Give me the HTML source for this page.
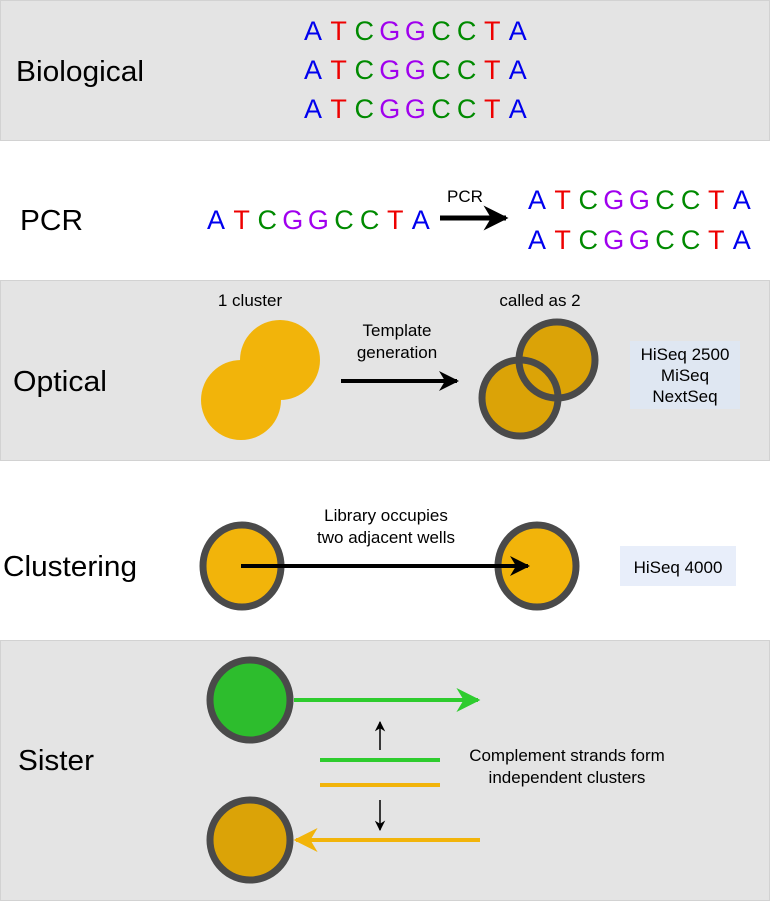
<!DOCTYPE html>
<html><head><meta charset="utf-8"><style>
html,body{margin:0;padding:0;background:#fff;}
svg{display:block;font-family:"Liberation Sans",Arial,sans-serif;}
</style></head><body>
<svg width="771" height="901" viewBox="0 0 771 901">
<defs>
<marker id="hb" viewBox="0 0 10 10" refX="9" refY="5" markerWidth="5" markerHeight="5" orient="auto" markerUnits="strokeWidth"><path d="M0,0 L10,5 L0,10 L3,5 z" fill="#000"/></marker>
<marker id="hg" viewBox="0 0 10 10" refX="9" refY="5" markerWidth="6" markerHeight="6" orient="auto" markerUnits="strokeWidth"><path d="M0,0 L10,5 L0,10 L3,5 z" fill="#2ecc2e"/></marker>
<marker id="hy" viewBox="0 0 10 10" refX="9" refY="5" markerWidth="6" markerHeight="6" orient="auto" markerUnits="strokeWidth"><path d="M0,0 L10,5 L0,10 L3,5 z" fill="#f2b40a"/></marker>
<marker id="hs" viewBox="0 0 10 10" refX="9" refY="5" markerWidth="7" markerHeight="7" orient="auto" markerUnits="strokeWidth"><path d="M0,0 L10,5 L0,10 L3,5 z" fill="#000"/></marker>
</defs>
<rect x="0.5" y="0.5" width="769" height="140" fill="#e4e4e4" stroke="#d2d2d2"/>
<rect x="0.5" y="280.5" width="769" height="180" fill="#e4e4e4" stroke="#d2d2d2"/>
<rect x="0.5" y="640.5" width="769" height="260" fill="#e4e4e4" stroke="#d2d2d2"/>

<g font-size="29" fill="#000">
<text x="16" y="81" textLength="128" lengthAdjust="spacingAndGlyphs">Biological</text>
<text x="20" y="230" textLength="63" lengthAdjust="spacingAndGlyphs">PCR</text>
<text x="13" y="391" textLength="94" lengthAdjust="spacingAndGlyphs">Optical</text>
<text x="3" y="576" textLength="134" lengthAdjust="spacingAndGlyphs">Clustering</text>
<text x="18" y="770" textLength="76" lengthAdjust="spacingAndGlyphs">Sister</text>
</g>

<g id="seqs" font-size="27" text-anchor="middle"></g>

<g>
<line x1="440" y1="218" x2="506" y2="218" stroke="#000" stroke-width="5" marker-end="url(#hb)"/>
<text x="465" y="202" font-size="17" text-anchor="middle">PCR</text>
</g>

<g font-size="17" text-anchor="middle">
<text x="250" y="306">1 cluster</text>
<circle cx="280" cy="360" r="40" fill="#f2b40a"/>
<circle cx="241" cy="400" r="40" fill="#f2b40a"/>
<text x="397" y="336">Template</text>
<text x="397" y="358">generation</text>
<line x1="341" y1="381" x2="457" y2="381" stroke="#000" stroke-width="4" marker-end="url(#hb)"/>
<text x="540" y="306">called as 2</text>
<circle cx="557" cy="360" r="38" fill="#dba307"/>
<circle cx="520" cy="398" r="38" fill="#dba307"/>
<circle cx="557" cy="360" r="38" fill="none" stroke="#4a4a4a" stroke-width="7"/>
<circle cx="520" cy="398" r="38" fill="none" stroke="#4a4a4a" stroke-width="7"/>
<rect x="630" y="341" width="110" height="68" fill="#dfe7f2"/>
<text x="685" y="360">HiSeq 2500</text>
<text x="685" y="381">MiSeq</text>
<text x="685" y="402">NextSeq</text>
</g>

<g font-size="17" text-anchor="middle">
<ellipse cx="242" cy="566" rx="39" ry="41" fill="#f2b40a" stroke="#4a4a4a" stroke-width="7"/>
<ellipse cx="537" cy="566" rx="39" ry="41" fill="#f2b40a" stroke="#4a4a4a" stroke-width="7"/>
<line x1="241" y1="566" x2="528" y2="566" stroke="#000" stroke-width="4" marker-end="url(#hb)"/>
<text x="386" y="521">Library occupies</text>
<text x="386" y="543">two adjacent wells</text>
<rect x="620" y="546" width="116" height="40" fill="#e8eefa"/>
<text x="678" y="573">HiSeq 4000</text>
</g>

<g font-size="17" text-anchor="middle">
<circle cx="250" cy="700" r="40" fill="#2dbd2d" stroke="#4a4a4a" stroke-width="7"/>
<line x1="294" y1="700" x2="478" y2="700" stroke="#2ecc2e" stroke-width="4" marker-end="url(#hg)"/>
<circle cx="250" cy="840" r="40" fill="#dba307" stroke="#4a4a4a" stroke-width="7"/>
<line x1="480" y1="840" x2="296" y2="840" stroke="#f2b40a" stroke-width="4" marker-end="url(#hy)"/>
<line x1="320" y1="760" x2="440" y2="760" stroke="#2ecc2e" stroke-width="4"/>
<line x1="320" y1="785" x2="440" y2="785" stroke="#f2b40a" stroke-width="4"/>
<line x1="380" y1="750" x2="380" y2="722" stroke="#000" stroke-width="1.5" marker-end="url(#hs)"/>
<line x1="380" y1="800" x2="380" y2="830" stroke="#000" stroke-width="1.5" marker-end="url(#hs)"/>
<text x="567" y="761">Complement strands form</text>
<text x="567" y="783">independent clusters</text>
</g>
</svg>
<script>
const bases=["A","T","C","G","G","C","C","T","A"];
const colors={A:"#0000ee",T:"#ee0000",C:"#008a00",G:"#a000ee"};
const rows=[{x:313,y:40},{x:313,y:79},{x:313,y:118},{x:216,y:229},{x:537,y:209},{x:537,y:249}];
const step=25.6;
const g=document.getElementById('seqs');
rows.forEach((r,ri)=>{
  bases.forEach((b,i)=>{
    const t=document.createElementNS('http://www.w3.org/2000/svg','text');
    t.setAttribute('x',r.x+i*step);
    t.setAttribute('y',r.y);
    t.setAttribute('fill',colors[b]);
    
    
    t.textContent=b;
    g.appendChild(t);
  });
});
</script>
</body></html>
